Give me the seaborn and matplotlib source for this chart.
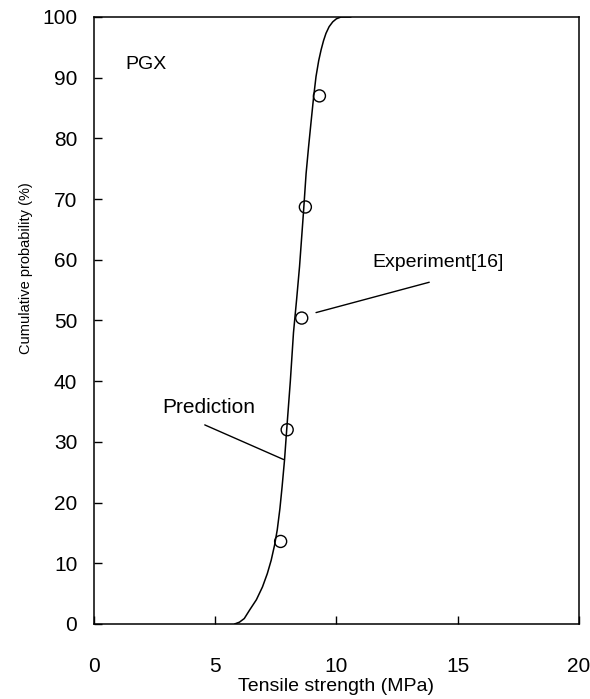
import matplotlib
matplotlib.use("Agg")
import matplotlib.pyplot as plt
import pandas as pd
import seaborn as sns

# Predicted cumulative distribution
pred_strength = [5.80, 6.00, 6.20, 6.42, 6.70, 6.95, 7.15, 7.31, 7.45, 7.56, 7.67, 7.76,
                 7.86, 7.95, 8.10, 8.23, 8.36, 8.48, 8.64, 8.75, 8.85, 8.95, 9.06,
                 9.16, 9.27, 9.37, 9.47, 9.57, 9.70, 9.85, 10.00, 10.19, 10.60]
pred_prob = [0.0, 0.3, 0.9, 2.3, 4.0, 6.1, 8.3, 10.5, 13.0, 15.5, 19.0, 22.6,
             27.0, 32.0, 40.0, 48.0, 53.5, 58.9, 67.7, 74.2, 78.5, 82.5, 86.8,
             90.2, 92.8, 94.6, 96.1, 97.3, 98.4, 99.2, 99.7, 100.0, 100.0]

# Experimental data [16]
exp_strength = [7.70, 7.97, 8.57, 8.72, 9.30]
exp_prob = [13.6, 32.0, 50.4, 68.7, 87.0]

x_ticks = [0, 5, 10, 15, 20]
y_ticks = [0, 10, 20, 30, 40, 50, 60, 70, 80, 90, 100]

sns.set_theme(style="white")
plt.rcParams["font.family"] = ["Liberation Sans", "DejaVu Sans"]
plt.rcParams["text.color"] = "black"
plt.rcParams["axes.labelcolor"] = "black"
plt.rcParams["xtick.color"] = "black"
plt.rcParams["ytick.color"] = "black"
plt.rcParams["xtick.direction"] = "in"
plt.rcParams["ytick.direction"] = "in"

pred = pd.DataFrame({"strength": pred_strength, "prob": pred_prob})
exp = pd.DataFrame({"strength": exp_strength, "prob": exp_prob})

fig = plt.figure(figsize=(5.9, 6.99), dpi=100)
ax = fig.add_axes([0.1593, 0.1073, 0.8217, 0.8684])

sns.lineplot(data=pred, x="strength", y="prob", color="black", linewidth=1.1, ax=ax)
sns.scatterplot(data=exp, x="strength", y="prob", facecolor="none", edgecolor="black",
                linewidth=1.0, s=75, marker="o", ax=ax, zorder=3)

ax.set_xlim(0, 20)
ax.set_ylim(0, 100)
ax.set_xticks(x_ticks)
ax.set_yticks(y_ticks)
ax.tick_params(axis="x", bottom=True, top=False, length=6, width=1, pad=24, labelsize=15)
ax.tick_params(axis="y", left=True, right=False, length=6, width=1, pad=12, labelsize=15)
for s in ax.spines.values():
    s.set_color("black")
    s.set_linewidth(1.1)

ax.set_xlabel("Tensile strength (MPa)", fontsize=14, labelpad=1)
ax.set_ylabel("Cumulative probability (%)", fontsize=10.5)
ax.yaxis.set_label_coords(-0.125, 0.586)

ax.text(1.3, 92.1, "PGX", fontsize=14, ha="left", va="center")
ax.text(4.73, 35.6, "Prediction", fontsize=15, ha="center", va="center")
ax.plot([4.57, 7.82], [32.8, 27.1], color="black", linewidth=1.0)
ax.text(14.2, 59.6, "Experiment[16]", fontsize=14, ha="center", va="center")
ax.plot([9.16, 13.83], [51.3, 56.3], color="black", linewidth=1.0)

fig.savefig("out.png", dpi=100)
